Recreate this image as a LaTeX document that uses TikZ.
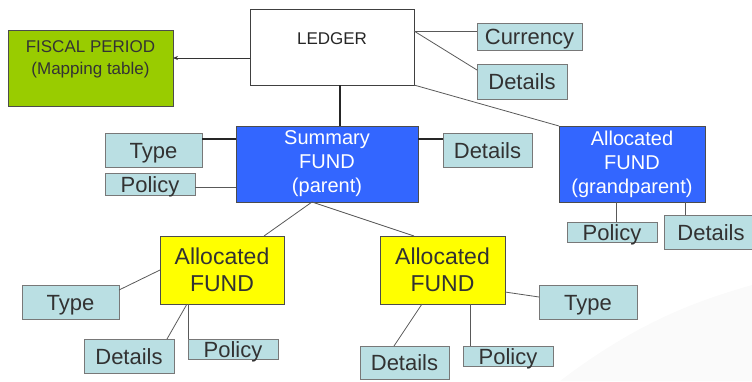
\documentclass[tikz,border=0pt]{standalone}
\usepackage{fontspec}
\setmainfont{Liberation Sans}
\usetikzlibrary{arrows.meta}
\definecolor{lightbox}{RGB}{186,223,227}
\definecolor{boxline}{RGB}{120,120,120}
\definecolor{fundblue}{RGB}{51,102,255}
\definecolor{fiscalgreen}{RGB}{153,204,0}
\definecolor{allocyellow}{RGB}{255,255,0}
\definecolor{txtdark}{RGB}{50,50,50}
\tikzset{
  base/.style={rectangle, inner sep=0pt, outer sep=0pt},
  attr/.style={base, draw=boxline, fill=lightbox, line width=0.9pt, text=txtdark,
    font=\fontsize{22}{24}\selectfont, text height=16pt, text depth=0pt},
  bluefund/.style={base, draw=black!70, fill=fundblue, text=white, line width=1pt,
    align=center, font=\fontsize{20}{24}\selectfont},
  yellowfund/.style={base, draw=black!70, fill=allocyellow, text=txtdark, line width=1pt,
    align=center, font=\fontsize{23}{27}\selectfont},
  conn/.style={draw=black!65, line width=0.8pt},
  plain/.style={base, font=\fontsize{17}{22}\selectfont, text=black!85, align=center}
}
\begin{document}
\begin{tikzpicture}[x=1pt,y=-1pt]
\useasboundingbox (0,0) rectangle (752,381);
\fill[black!2] (560,381) .. controls (640,320) and (700,300) .. (752,285) -- (752,381) -- cycle;
% main boxes
\node[base, draw=black!75, fill=white, line width=1pt, minimum width=164pt, minimum height=76pt] (ledger) at (332,47) {};
\node[plain] (ledgertxt) at (332,39) {LEDGER};
\node[base, draw=black!70, fill=fiscalgreen, line width=1pt, minimum width=165pt, minimum height=76pt] (fiscal) at (90.5,68) {};
\node[plain, text=black!80] (fiscaltxt) at (90.5,59) {FISCAL PERIOD\\(Mapping table)};
\node[attr, minimum width=105pt, minimum height=27pt] (currency) at (529.5,36.5) {Currency};
\node[attr, minimum width=90pt, minimum height=35pt] (ldetails) at (522,81.5) {Details};
\node[bluefund, minimum width=182pt, minimum height=76pt] (summary) at (327,164) {Summary\\FUND\\(parent)};
\node[bluefund, minimum width=146pt, minimum height=76pt] (gp) at (632,164) {Allocated\\FUND\\(grandparent)};
\node[attr, minimum width=97pt, minimum height=34pt] (stype) at (153.5,150) {Type};
\node[attr, minimum width=90pt, minimum height=22pt] (spolicy) at (150,184) {Policy};
\node[attr, minimum width=89pt, minimum height=34pt] (sdetails) at (487.5,150) {Details};
\node[yellowfund, minimum width=124pt, minimum height=68pt] (ly) at (222,270) {Allocated\\FUND};
\node[attr, minimum width=97pt, minimum height=34pt] (ltype) at (70.5,302) {Type};
\node[attr, minimum width=90pt, minimum height=34pt] (ldet) at (129,356) {Details};
\node[attr, minimum width=90pt, minimum height=20pt] (lpol) at (233,349) {Policy};
\node[yellowfund, minimum width=125pt, minimum height=68pt] (ry) at (442.5,270) {Allocated\\FUND};
\node[attr, minimum width=98pt, minimum height=34pt] (rtype) at (588,302) {Type};
\node[attr, minimum width=89pt, minimum height=33pt] (rdet) at (404.5,362.5) {Details};
\node[attr, minimum width=90pt, minimum height=20pt] (rpol) at (508,356) {Policy};
\node[attr, minimum width=90pt, minimum height=20pt] (gpol) at (612,232) {Policy};
\node[attr, minimum width=94pt, minimum height=34pt] (gdet) at (711,232) {Details};
% connectors
\draw[conn, black!80, -{Stealth[length=5pt,width=4pt]}] (ledger.west |- 0,58) -- (fiscal.east |- 0,58);
\draw[conn] (ledger.east |- 0,31) -- (currency.west |- 0,31);
\draw[conn] (ledger.east |- 0,31) -- (ldetails.west |- 0,70);
\draw[conn] (ledger.south east) -- (gp.north west);
\draw[conn, black!85, line width=1.3pt] (ledger.south -| 340,0) -- (summary.north -| 340,0);
\draw[conn, black!85, line width=1.1pt] (stype.east |- 0,139) -- (summary.west |- 0,139);
\draw[conn] (spolicy.east |- 0,187) -- (summary.west |- 0,187);
\draw[conn, black!85, line width=1.1pt] (summary.east |- 0,139) -- (sdetails.west |- 0,139);
\draw[conn] (summary.south -| 312,0) -- (ly.north -| 264,0);
\draw[conn] (summary.south -| 312,0) -- (ry.north -| 414,0);
\draw[conn] (ly.west |- 0,270) -- (ltype.east |- 0,290);
\draw[conn] (ly.south -| 187,0) -- (ldet.north -| 167,0);
\draw[conn] (ly.south -| 188,0) -- (lpol.north -| 188,0);
\draw[conn] (ry.east |- 0,292) -- (rtype.west |- 0,297);
\draw[conn] (ry.south -| 422,0) -- (rdet.north -| 394,0);
\draw[conn] (ry.south -| 470,0) -- (rpol.north -| 470,0);
\draw[conn] (gp.south -| 616,0) -- (gpol.north -| 616,0);
\draw[conn] (gp.south -| 685,0) -- (gdet.north -| 685,0);
\end{tikzpicture}
\end{document}
